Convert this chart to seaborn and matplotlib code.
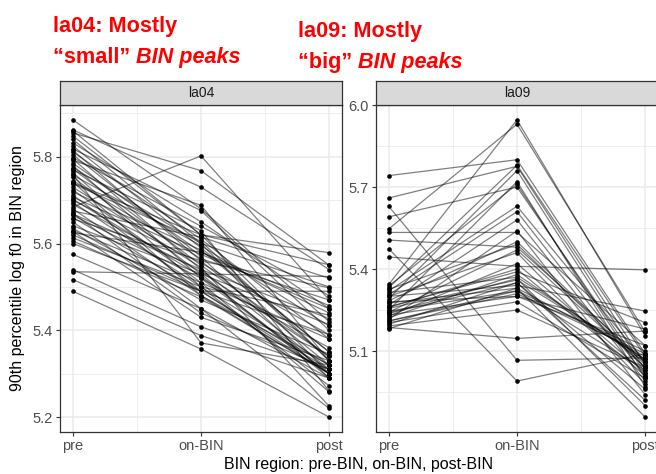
import numpy as np
import pandas as pd
import matplotlib
matplotlib.use("Agg")
import matplotlib.pyplot as plt
import seaborn as sns

# ---------------- data ----------------
regions = ["pre", "on-BIN", "post"]
speakers = ["la04", "la09"]

la04_pre = [5.885, 5.862, 5.855, 5.848, 5.840, 5.832, 5.825, 5.818, 5.815, 5.811,
            5.805, 5.798, 5.795, 5.792, 5.785, 5.780, 5.775, 5.772, 5.770, 5.764,
            5.758, 5.753, 5.745, 5.742, 5.738, 5.730, 5.724, 5.719, 5.712, 5.707,
            5.702, 5.700, 5.695, 5.690, 5.684, 5.680, 5.675, 5.670, 5.668, 5.665,
            5.660, 5.657, 5.650, 5.641, 5.635, 5.630, 5.628, 5.625, 5.620, 5.613,
            5.606, 5.575, 5.540, 5.535, 5.517, 5.490, 5.600, 5.860, 5.760, 5.740]
la04_on = [5.680, 5.730, 5.768, 5.620, 5.600, 5.650, 5.590, 5.676, 5.560, 5.610,
           5.570, 5.640, 5.540, 5.688, 5.580, 5.520, 5.600, 5.550, 5.630, 5.500,
           5.595, 5.530, 5.565, 5.480, 5.605, 5.545, 5.510, 5.585, 5.490, 5.575,
           5.525, 5.555, 5.500, 5.535, 5.802, 5.480, 5.615, 5.450, 5.540, 5.520,
           5.490, 5.560, 5.440, 5.530, 5.470, 5.510, 5.430, 5.580, 5.490, 5.500,
           5.477, 5.450, 5.408, 5.530, 5.388, 5.357, 5.490, 5.620, 5.371, 5.620]
la04_post = [5.420, 5.540, 5.550, 5.330, 5.300, 5.450, 5.350, 5.400, 5.320, 5.380,
             5.290, 5.480, 5.310, 5.330, 5.440, 5.300, 5.500, 5.340, 5.260, 5.320,
             5.410, 5.290, 5.470, 5.300, 5.330, 5.225, 5.380, 5.350, 5.310, 5.450,
             5.300, 5.390, 5.272, 5.340, 5.470, 5.320, 5.520, 5.290, 5.427, 5.360,
             5.300, 5.498, 5.310, 5.413, 5.345, 5.258, 5.330, 5.457, 5.390, 5.435,
             5.300, 5.220, 5.310, 5.524, 5.290, 5.200, 5.490, 5.579, 5.320, 5.551]

la09_pre = [5.742, 5.660, 5.629, 5.591, 5.547, 5.534, 5.506, 5.474, 5.444, 5.344,
            5.338, 5.332, 5.326, 5.320, 5.314, 5.306, 5.300, 5.292, 5.284, 5.276,
            5.268, 5.262, 5.256, 5.250, 5.246, 5.242, 5.238, 5.232, 5.228, 5.222,
            5.216, 5.210, 5.204, 5.198, 5.192, 5.186, 5.182, 5.260, 5.300, 5.240,
            5.280, 5.210]
la09_on = [5.800, 5.776, 5.066, 5.700, 5.930, 5.534, 5.480, 4.990, 5.410, 5.946,
           5.710, 5.780, 5.490, 5.630, 5.370, 5.610, 5.340, 5.760, 5.500, 5.330,
           5.580, 5.390, 5.360, 5.720, 5.320, 5.470, 5.350, 5.300, 5.420, 5.380,
           5.540, 5.310, 5.280, 5.350, 5.250, 5.146, 5.330, 5.400, 5.460, 5.365,
           5.300, 5.320]
la09_post = [5.090, 5.050, 5.075, 5.020, 5.170, 5.120, 5.060, 5.090, 5.397, 5.155,
             5.000, 5.080, 5.040, 5.060, 5.070, 5.010, 5.246, 5.030, 5.050, 5.080,
             4.990, 5.204, 5.070, 4.970, 5.100, 5.040, 4.960, 5.180, 5.020, 5.060,
             4.940, 5.090, 5.000, 4.920, 5.040, 5.173, 4.858, 5.010, 4.980, 4.900,
             5.120, 5.030]

series = {"la04": (la04_pre, la04_on, la04_post),
          "la09": (la09_pre, la09_on, la09_post)}

rows = []
for spk in speakers:
    pre, on, post = series[spk]
    for i, vals in enumerate(zip(pre, on, post)):
        for k, v in enumerate(vals):
            rows.append(dict(speaker=spk, token=i, pos=k, region=regions[k], value=v))
df = pd.DataFrame(rows)

# ---------------- style ----------------
sns.set_theme(style="white")
plt.rcParams["font.family"] = ["Liberation Sans", "DejaVu Sans"]

W, H = 656, 474
fig = plt.figure(figsize=(W / 100, H / 100), dpi=100)

def fx(px):
    return px / W

def fy(py):
    return 1 - py / H

panel_top, panel_bot = 105, 432
strip_top = 81
panels = {"la04": (60, 342), "la09": (376, 658)}
yticks = {"la04": [5.2, 5.4, 5.6, 5.8], "la09": [5.1, 5.4, 5.7, 6.0]}
yminor = {"la04": [5.3, 5.5, 5.7, 5.9], "la09": [4.95, 5.25, 5.55, 5.85]}

border = "#333333"
grid_c = "#EBEBEB"

for spk in speakers:
    x0, x1 = panels[spk]
    ax = fig.add_axes([fx(x0), fy(panel_bot), (x1 - x0) / W, (panel_bot - panel_top) / H])
    d = df[df.speaker == spk]
    sns.lineplot(data=d, x="pos", y="value", units="token", estimator=None,
                 color="black", alpha=0.5, linewidth=0.9, ax=ax, legend=False)
    sns.scatterplot(data=d, x="pos", y="value", color="black", s=11, linewidth=0,
                    ax=ax, zorder=3, legend=False)
    vmin, vmax = d.value.min(), d.value.max()
    pad = (vmax - vmin) * 0.05
    ax.set_ylim(vmin - pad, vmax + pad)
    ax.set_xlim(-0.1, 2.1)
    ax.set_xticks([0, 1, 2])
    ax.set_xticklabels(regions)
    ax.set_xticks([0.5, 1.5], minor=True)
    ax.set_yticks(yticks[spk])
    ax.set_yticklabels([f"{v:.1f}" for v in yticks[spk]])
    ax.set_yticks(yminor[spk], minor=True)
    ax.grid(which="major", color=grid_c, linewidth=1.1)
    ax.grid(which="minor", color=grid_c, linewidth=0.6)
    ax.set_axisbelow(True)
    ax.set_xlabel("")
    ax.set_ylabel("")
    ax.tick_params(which="major", length=3, width=0.8, color=border,
                   labelcolor="#4D4D4D", labelsize=10.5, pad=2,
                   bottom=True, left=True)
    ax.tick_params(which="minor", length=0)
    for s in ax.spines.values():
        s.set_color(border)
        s.set_linewidth(0.9)
    ax.set_facecolor("white")

    # facet strip
    sax = fig.add_axes([fx(x0), fy(panel_top), (x1 - x0) / W, (panel_top - strip_top) / H])
    sax.set_facecolor("#D9D9D9")
    sax.set_xticks([])
    sax.set_yticks([])
    for s in sax.spines.values():
        s.set_color(border)
        s.set_linewidth(0.9)
    sax.text(0.5, 0.5, spk, ha="center", va="center", fontsize=10,
             color="#1A1A1A", transform=sax.transAxes)

# axis titles
fig.text(fx(18), fy((panel_top + panel_bot) / 2), "90th percentile log f0 in BIN region",
         rotation=90, ha="center", va="center", fontsize=11.5, color="black")
fig.text(fx(359), fy(464), "BIN region: pre-BIN, on-BIN, post-BIN",
         ha="center", va="center", fontsize=11.5, color="black")

# red annotations
red = "#FF0000"
tfont = ["Liberation Sans", "DejaVu Sans"]
renderer = fig.canvas.get_renderer()

def mixed(xpx, ypx, parts, size):
    x = fx(xpx)
    for txt, style in parts:
        t = fig.text(x, fy(ypx), txt, color=red, fontsize=size, fontweight="bold",
                     fontstyle=style, family=tfont, va="baseline", ha="left")
        bb = t.get_window_extent(renderer=renderer)
        x = bb.x1 / W

title_size = 15.6
mixed(53, 32, [("la04: Mostly", "normal")], title_size)
mixed(53, 63, [("\u201csmall\u201d ", "normal"), ("BIN peaks", "italic")], title_size)
mixed(298, 37, [("la09: Mostly", "normal")], title_size)
mixed(298, 68, [("\u201cbig\u201d ", "normal"), ("BIN peaks", "italic")], title_size)

fig.savefig("out.png", dpi=100)
